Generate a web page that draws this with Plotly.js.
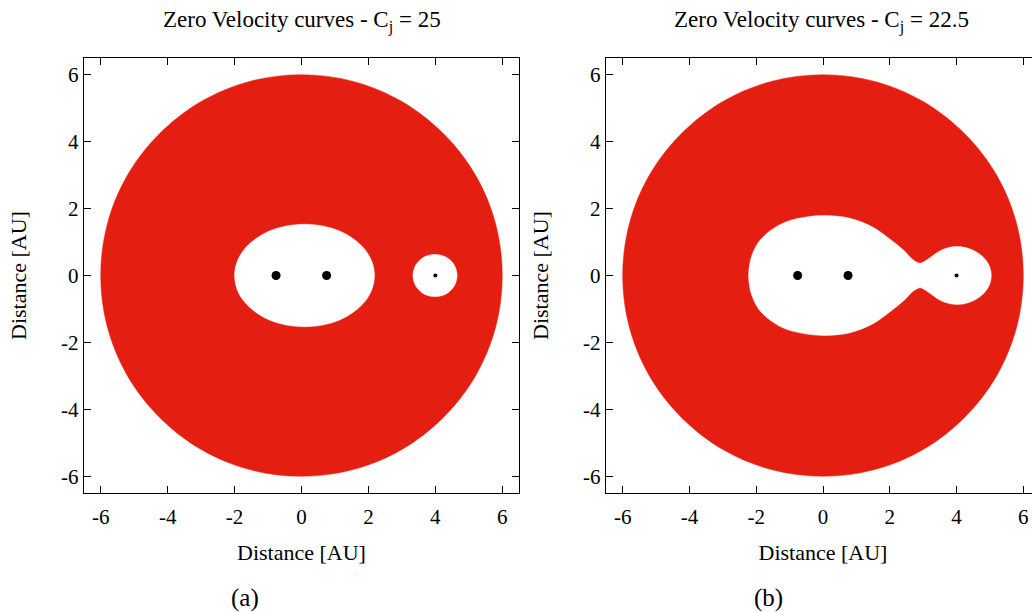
<!DOCTYPE html>
<html>
<head>
<meta charset="utf-8">
<script src="https://cdn.plot.ly/plotly-3.0.1.min.js"></script>
<style>
  html, body { margin: 0; padding: 0; overflow: hidden; background: #fff; }
  #chart { width: 1045px; height: 612px; }
</style>
</head>
<body>
<div id="chart"></div>
<script>
// ---- data ----
const panelTitles = ['Zero Velocity curves - C<sub>j</sub> = 25', 'Zero Velocity curves - C<sub>j</sub> = 22.5'];
const panelCaptions = ['(a)', '(b)'];
const axisTitle = 'Distance [AU]';
const tickVals = [-6, -4, -2, 0, 2, 4, 6];
const tickLabels = ['-6', '-4', '-2', '0', '2', '4', '6'];

// outer boundary of the forbidden (red) region (both panels)
const outerX = [0, -1.55, -3.00, -4.24, -5.20, -5.80, -6.00, -5.80, -5.20, -4.24, -3.00, -1.55,
                0, 1.55, 3.00, 4.24, 5.20, 5.80, 6.00, 5.80, 5.20, 4.24, 3.00, 1.55, 0];
const outerY = [6.00, 5.80, 5.20, 4.24, 3.00, 1.55, 0, -1.55, -3.00, -4.24, -5.20, -5.80,
                -6.00, -5.80, -5.20, -4.24, -3.00, -1.55, 0, 1.55, 3.00, 4.24, 5.20, 5.80, 6.00];

// panel (a), Cj = 25: allowed region around the binary
const holeA1X = [0.09, -0.45, -0.96, -1.39, -1.72, -1.93, -2.00, -1.93, -1.72, -1.39, -0.96, -0.45,
                 0.09, 0.63, 1.14, 1.57, 1.90, 2.11, 2.18, 2.11, 1.90, 1.57, 1.14, 0.63, 0.09];
const holeA1Y = [1.53, 1.48, 1.33, 1.08, 0.77, 0.40, 0, -0.40, -0.77, -1.08, -1.33, -1.48,
                 -1.53, -1.48, -1.33, -1.08, -0.77, -0.40, 0, 0.40, 0.77, 1.08, 1.33, 1.48, 1.53];
// panel (a): allowed region around the planet
const holeA2X = [3.99, 3.66, 3.42, 3.33, 3.42, 3.66, 3.99, 4.32, 4.56, 4.65, 4.56, 4.32, 3.99];
const holeA2Y = [0.63, 0.55, 0.32, 0, -0.32, -0.55, -0.63, -0.55, -0.32, 0, 0.32, 0.55, 0.63];

// panel (b), Cj = 22.5: connected allowed region
const holeBX = [0.11, -0.49, -1.09, -1.58, -1.93, -2.13, -2.20, -2.23, -2.20, -2.13, -1.93, -1.58, -1.09, -0.49,
                0.11, 0.81, 1.50, 2.00, 2.40, 2.70, 2.89, 3.02, 3.20, 3.51, 3.84, 4.20, 4.53, 4.80, 4.98, 5.04,
                4.98, 4.80, 4.53, 4.20, 3.84, 3.51, 3.20, 3.02, 2.89, 2.70, 2.40, 2.00, 1.50, 0.81, 0.11];
const holeBY = [1.79, 1.75, 1.61, 1.34, 1.00, 0.60, 0.32, 0, -0.32, -0.60, -1.00, -1.34, -1.61, -1.75,
                -1.79, -1.71, -1.44, -1.09, -0.77, -0.47, -0.37, -0.41, -0.53, -0.74, -0.85, -0.85, -0.74, -0.55, -0.29, 0,
                0.29, 0.55, 0.74, 0.85, 0.85, 0.74, 0.53, 0.41, 0.37, 0.47, 0.77, 1.09, 1.44, 1.71, 1.79];

// bodies
const starX = [-0.76, 0.75];
const starY = [0, 0];
const planetX = [4.0];
const planetY = [0];

// ---- drawing ----
const RED = '#e41f12';
const FONT = 'Liberation Serif';
const W = 1045, H = 612;

function region(x, y, color, xa, ya) {
  return { x: x, y: y, xaxis: xa, yaxis: ya, type: 'scatter', mode: 'lines',
           fill: 'toself', fillcolor: color, line: { color: color, width: 0.5, shape: 'spline', smoothing: 1 },
           hoverinfo: 'skip', showlegend: false };
}
function bodies(x, y, size, xa, ya) {
  return { x: x, y: y, xaxis: xa, yaxis: ya, type: 'scatter', mode: 'markers',
           marker: { color: '#000', size: size }, hoverinfo: 'skip', showlegend: false };
}

const traces = [
  region(outerX, outerY, RED, 'x', 'y'),
  region(holeA1X, holeA1Y, '#ffffff', 'x', 'y'),
  region(holeA2X, holeA2Y, '#ffffff', 'x', 'y'),
  bodies(starX, starY, 9, 'x', 'y'),
  bodies(planetX, planetY, 4, 'x', 'y'),
  region(outerX, outerY, RED, 'x2', 'y2'),
  region(holeBX, holeBY, '#ffffff', 'x2', 'y2'),
  bodies(starX, starY, 9, 'x2', 'y2'),
  bodies(planetX, planetY, 4, 'x2', 'y2')
];

function axis(domain, anchor, standoff, labelStandoff) {
  return {
    domain: domain, anchor: anchor, range: [-6.5, 6.5],
    tickmode: 'array', tickvals: tickVals, ticktext: tickLabels,
    ticks: 'inside', ticklen: 7, tickwidth: 1, tickcolor: '#000',
    ticklabelstandoff: labelStandoff,
    showline: true, linecolor: '#000', linewidth: 1.2, mirror: 'ticks',
    showgrid: false, zeroline: false,
    tickfont: { family: FONT, size: 21, color: '#000' },
    title: { text: axisTitle, font: { family: FONT, size: 22, color: '#000' }, standoff: standoff },
    fixedrange: true
  };
}

const yDom = [1 - 493 / H, 1 - 58 / H];
const titleFont = { family: FONT, size: 23, color: '#000' };
const capFont = { family: FONT, size: 25, color: '#000' };
const layout = {
  width: W, height: H, autosize: false,
  font: { family: FONT, color: '#000' },
  margin: { l: 0, r: 0, t: 0, b: 0 },
  paper_bgcolor: '#fff', plot_bgcolor: '#fff',
  showlegend: false,
  xaxis: axis([84 / W, 519 / W], 'y', 16, 5),
  yaxis: axis(yDom, 'x', 28, 0),
  xaxis2: axis([606 / W, 1040 / W], 'y2', 16, 5),
  yaxis2: axis(yDom, 'x2', 28, 0),
  annotations: [
    { text: panelTitles[0], xref: 'paper', yref: 'paper', x: 302 / W, y: 1 - 22 / H, xanchor: 'center', yanchor: 'middle', showarrow: false, font: titleFont },
    { text: panelTitles[1], xref: 'paper', yref: 'paper', x: 821 / W, y: 1 - 22 / H, xanchor: 'center', yanchor: 'middle', showarrow: false, font: titleFont },
    { text: panelCaptions[0], xref: 'paper', yref: 'paper', x: 245 / W, y: 1 - 598 / H, xanchor: 'center', yanchor: 'middle', showarrow: false, font: capFont },
    { text: panelCaptions[1], xref: 'paper', yref: 'paper', x: 768 / W, y: 1 - 598 / H, xanchor: 'center', yanchor: 'middle', showarrow: false, font: capFont }
  ]
};

Plotly.newPlot('chart', traces, layout, { staticPlot: true, displayModeBar: false });
</script>
</body>
</html>
